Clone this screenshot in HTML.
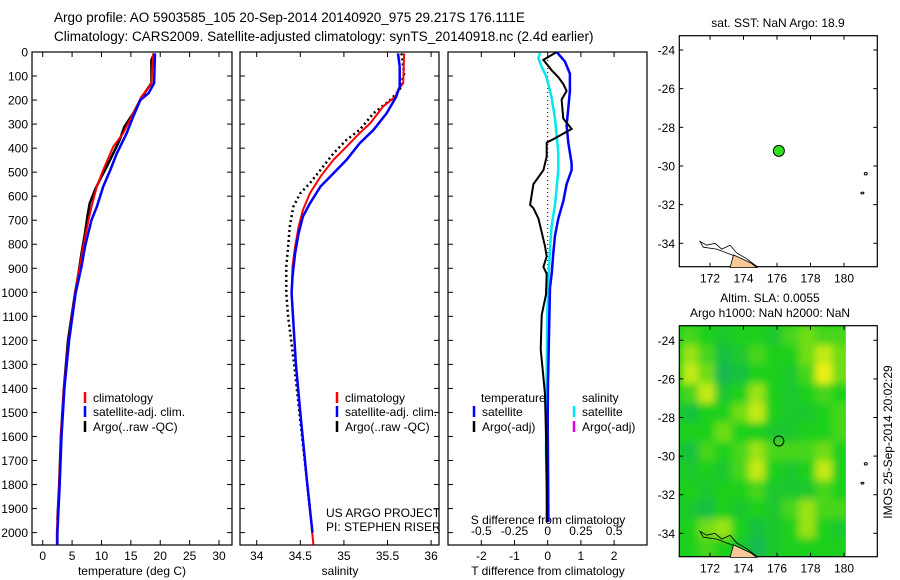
<!DOCTYPE html>
<html><head><meta charset="utf-8"><style>
body{margin:0;background:#fff}
svg{display:block;font-family:"Liberation Sans",sans-serif}
</style></head><body>
<svg id="fig" width="900" height="580" viewBox="0 0 900 580" xmlns="http://www.w3.org/2000/svg">
<defs>
<filter id="blur" x="-5%" y="-5%" width="110%" height="110%"><feGaussianBlur stdDeviation="4"/></filter>
<clipPath id="mapclip"><rect x="679.3" y="325.7" width="166.5" height="231"/></clipPath>
</defs>
<text x="54" y="22" font-size="13.5">Argo profile: AO 5903585_105 20-Sep-2014 20140920_975 29.217S 176.111E</text>
<text x="54" y="41" font-size="13.5">Climatology: CARS2009. Satellite-adjusted climatology: synTS_20140918.nc (2.4d earlier)</text>
<g id="g"></g>
</svg>
<script>
// ---------- data ----------
const depthTicks=[0,100,200,300,400,500,600,700,800,900,1000,1100,1200,1300,1400,1500,1600,1700,1800,1900,2000];
const tempTicks=[0,5,10,15,20,25,30];
const salTicks=[34,34.5,35,35.5,36];
const salTickLabels=["34","34.5","35","35.5","36"];
const tdiffTicks=[-2,-1,0,1,2];
const sdiffTicks=[-0.5,-0.25,0,0.25,0.5];
const sdiffTickLabels=["-0.5","-0.25","0","0.25","0.5"];
// temperature profiles
const tClimDepth=[6,130,158,186,255,338,394,491,560,644,699,810,893,1004,1200,1400,1600,1800,2000,2050];
const tClimVal=[18.8,18.5,17.7,16.8,15.4,13.7,12.0,10.3,9.2,8.3,7.8,6.9,6.3,5.5,4.4,3.6,3.1,2.8,2.4,2.4];
const tSatDepth=[6,130,172,200,269,338,422,491,560,644,699,810,893,1004,1200,1400,1600,1800,2000,2050];
const tSatVal=[19.1,18.95,18.0,16.6,15.4,14.3,12.6,11.5,10.3,9.2,8.3,7.2,6.6,5.6,4.5,3.7,3.2,2.9,2.5,2.5];
const tArgoDepth=[6,33,130,158,200,255,311,366,422,477,533,574,630,685,755,838,921,1004,1200,1400,1600,1800,1950];
const tArgoVal=[19.0,18.5,18.5,17.7,16.6,15.4,13.9,13.1,12.0,10.9,9.7,8.9,8.0,7.6,7.2,6.6,6.1,5.5,4.3,3.6,3.1,2.8,2.5];
// salinity profiles
const sClimDepth=[6,130,158,186,227,297,338,394,449,519,588,658,727,810,893,1004,1300,1500,1800,2050];
const sClimVal=[35.69,35.68,35.62,35.59,35.45,35.30,35.18,35.03,34.88,34.73,34.61,34.53,34.48,34.44,34.41,34.40,34.45,34.50,34.58,34.65];
const sSatDepth=[6,61,144,186,255,324,380,449,505,560,630,685,755,838,935,1004,1300,1500,1800,2000];
const sSatVal=[35.62,35.64,35.64,35.60,35.49,35.34,35.18,35.03,34.88,34.73,34.61,34.53,34.48,34.44,34.41,34.40,34.45,34.50,34.58,34.64];
const sArgoDepth=[6,89,158,200,255,324,366,422,491,546,588,644,727,810,893,1004,1100,1300,1500,1700,1900];
const sArgoVal=[35.66,35.69,35.64,35.53,35.34,35.18,35.03,34.88,34.73,34.61,34.50,34.42,34.38,34.36,34.34,34.34,34.36,34.43,34.49,34.55,34.61];
// differences
const dTSatDepth=[0,40,90,162,234,306,377,463,492,550,621,693,765,837,923,980,1095,1238,1382,1525,1956];
const dTSatVal=[0.27,0.52,0.67,0.67,0.62,0.57,0.62,0.72,0.72,0.57,0.47,0.32,0.22,0.17,0.12,0.07,0.05,0.03,0.01,0.0,0.02];
const dTArgoDepth=[0,33,76,105,133,162,198,277,320,363,377,435,492,550,636,650,693,750,808,851,894,923,1009,1095,1238,1353,1425,1597,1812,1956];
const dTArgoVal=[0.27,-0.13,0.12,0.32,0.47,0.57,0.42,0.47,0.72,0.17,-0.03,-0.03,-0.13,-0.43,-0.53,-0.43,-0.28,-0.18,-0.08,-0.03,-0.13,-0.03,-0.05,-0.18,-0.21,-0.13,-0.08,-0.05,-0.03,-0.03];
const dSSatDepth=[4,26,62,105,191,277,349,420,492,564,636,722,808,951,1095,1382,1669,1884,1956];
const dSSatVal=[-0.058,-0.07,-0.045,-0.008,0.03,0.055,0.068,0.08,0.08,0.068,0.055,0.03,0.018,0.005,-0.003,-0.008,-0.013,-0.003,0.005];
// maps
const lonTicks=[172,174,176,178,180];
const latTicks=[-24,-26,-28,-30,-32,-34];
const argoLon=176.111, argoLat=-29.217;
const slaLons=[170.85,171.85,172.85,173.85,174.85,175.85,176.85,177.85,178.85,179.85];
const slaLats=[-23.8,-24.8,-25.8,-26.8,-27.8,-28.8,-29.8,-30.8,-31.8,-32.8,-33.8,-34.8];
const slaGrid=[
[.6,.5,.4,.5,.5,.4,.6,.7,.6,.6],
[.8,.6,.3,.4,.6,.5,.5,.7,.9,.7],
[.9,.7,.2,.3,.5,.5,.4,.6,1,.7],
[.6,.9,.4,.5,.8,.5,.4,.5,.6,.5],
[.3,.5,.5,.7,.9,.5,.4,.4,.5,.6],
[.5,.5,.7,.5,.5,.4,.4,.5,.5,.6],
[.3,.6,.5,.6,.8,.6,.6,.6,.7,.5],
[.4,.5,.4,.6,.9,.5,.4,.5,.9,.5],
[.5,.4,.5,.5,.6,.4,.4,.4,.6,.5],
[.4,.3,.5,.4,.5,.4,.6,.8,.6,.6],
[.5,.7,.8,.5,.3,.4,.5,.8,.5,.4],
[.5,.6,.5,.4,.2,.4,.5,.5,.5,.5]];
const coastLon=[171.4,171.8,172.3,172.7,173.2,173.6,174.2,174.8,174.3,173.6,173.0,172.4,171.6,171.4];
const coastLat=[-33.9,-34.1,-34.0,-34.3,-34.1,-34.5,-34.8,-35.2,-35.0,-34.7,-34.5,-34.3,-34.2,-33.9];

// ---------- scales ----------
const NS="http://www.w3.org/2000/svg";
const G=document.getElementById('g');
const Y0=52, YS=0.2403;
const yD=d=>Y0+d*YS;
const xT=v=>42.7+v*5.877;
const xS=v=>256.7+(v-34)*87.2;
const xDT=v=>547.7+v*33.2;
const xDS=v=>547.7+v*132.8;
const mx=l=>710+(l-172)*16.75;
const myTop=l=>50+(-24-l)*19.33;
const myBot=l=>340.3+(-24-l)*19.3;
function el(tag,attrs,parent){const e=document.createElementNS(NS,tag);for(const k in attrs)e.setAttribute(k,attrs[k]);(parent||G).appendChild(e);return e;}
function txt(s,x,y,anchor,size,parent){const t=el('text',{x:x,y:y,'text-anchor':anchor||'middle','font-size':size||12},parent);t.textContent=s;return t;}
function line(xs,ys,color,w,name){const pts=xs.map((x,i)=>x.toFixed(1)+','+ys[i].toFixed(1)).join(' ');const p=el('polyline',{points:pts,fill:'none',stroke:color,'stroke-width':w});return p;}

// ---------- profile panels ----------
const panels=[[32,232],[240,439],[448,647]];
const BOT=545;
panels.forEach((p,i)=>{
  const r=el('rect',{x:p[0],y:Y0,width:p[1]-p[0],height:BOT-Y0,fill:'none',stroke:'#000','stroke-width':1.2});
  
  
  depthTicks.forEach(d=>{
    el('line',{x1:p[0],x2:p[0]+5,y1:yD(d),y2:yD(d),stroke:'#000'});
    if(i<2) el('line',{x1:p[1]-5,x2:p[1],y1:yD(d),y2:yD(d),stroke:'#000'});
  });
});
depthTicks.forEach(d=>{const t=txt(String(d),28,yD(d)+4.5,'end',12);});
function xticks(vals,labels,fx,p){vals.forEach((v,i)=>{const x=fx(v);el('line',{x1:x,x2:x,y1:BOT,y2:BOT-5,stroke:'#000'});el('line',{x1:x,x2:x,y1:Y0,y2:Y0+5,stroke:'#000'});const t=txt(labels[i],x,BOT+15,'middle',12);});}
xticks(tempTicks,tempTicks.map(String),xT);
xticks(salTicks,salTickLabels,xS);
xticks(tdiffTicks,tdiffTicks.map(String),xDT);
sdiffTicks.forEach((v,i)=>{const t=txt(sdiffTickLabels[i],xDS(v),535,'middle',12);});
let a=txt('temperature (deg C)',132,575,'middle',12);
a=txt('salinity',340,575,'middle',12);
a=txt('T difference from climatology',548,575,'middle',12);
a=txt('S difference from climatology',548,524,'middle',12);
a=txt('US ARGO PROJECT',326,517,'start',12);
a=txt('PI: STEPHEN RISER',326,531,'start',12);

// zero line
el('line',{x1:xDT(0),x2:xDT(0),y1:Y0,y2:yD(1000),stroke:'#000','stroke-dasharray':'1 3'});

line(tArgoVal.map(xT),tArgoDepth.map(yD),'#000',2.5,'temp-argo-line');
line(tClimVal.map(xT),tClimDepth.map(yD),'#f00',2,'temp-climatology-line');
line(tSatVal.map(xT),tSatDepth.map(yD),'#00f',2.5,'temp-satellite-line');
const sa=line(sArgoVal.map(xS),sArgoDepth.map(yD),'#000',2.5,'salinity-argo-line');sa.setAttribute('stroke-dasharray','2 3');
line(sClimVal.map(xS),sClimDepth.map(yD),'#f00',2,'salinity-climatology-line');
line(sSatVal.map(xS),sSatDepth.map(yD),'#00f',2.5,'salinity-satellite-line');
line(dSSatVal.map(xDS),dSSatDepth.map(yD),'#00e8f0',2.5,'s-diff-satellite-line');
line(dTSatVal.map(xDT),dTSatDepth.map(yD),'#00f',2.5,'t-diff-satellite-line');
line(dTArgoVal.map(xDT),dTArgoDepth.map(yD),'#000',2,'t-diff-argo-line');

// legends
function leg(x,y,color,label,name){el('line',{x1:x,x2:x,y1:y-10,y2:y+1,stroke:color,'stroke-width':2.5});const t=txt(label,x+8,y,'start',12);}
leg(85,402,'#f00','climatology','legend-climatology');
leg(85,416,'#00f','satellite-adj. clim.','legend-satellite-adj');
leg(85,431,'#000','Argo(..raw -QC)','legend-argo');
leg(337,402,'#f00','climatology','legend-climatology-2');
leg(337,416,'#00f','satellite-adj. clim.','legend-satellite-adj-2');
leg(337,431,'#000','Argo(..raw -QC)','legend-argo-2');
a=txt('temperature',481,402,'start',12);
a=txt('salinity',582,402,'start',12);
leg(474,416,'#00f','satellite','legend-t-satellite');
leg(474,431,'#000','Argo(-adj)','legend-t-argo');
leg(574,416,'#00e8f0','satellite','legend-s-satellite');
leg(574,431,'#e000e0','Argo(-adj)','legend-s-argo');

// ---------- maps ----------
function mapFrame(top,bot,fy,name){
  const r=el('rect',{x:679.3,y:top,width:198,height:bot-top,fill:'none',stroke:'#000','stroke-width':1.2});
  
  lonTicks.forEach(l=>{const x=mx(l);el('line',{x1:x,x2:x,y1:top,y2:top+4,stroke:'#000'});el('line',{x1:x,x2:x,y1:bot,y2:bot-4,stroke:'#000'});const t=txt(String(l),x,bot+16,'middle',12);});
  latTicks.forEach(l=>{const y=fy(l);el('line',{x1:679.3,x2:683.3,y1:y,y2:y,stroke:'#000'});el('line',{x1:877.3,x2:873.3,y1:y,y2:y,stroke:'#000'});const t=txt(String(l),675,y+4.5,'end',12);});
}
function coast(fy,name){
  const pts=coastLon.map((l,i)=>mx(l).toFixed(1)+','+fy(coastLat[i]).toFixed(1)).join(' ');
  const c=el('polygon',{points:pts,fill:'none',stroke:'#000','stroke-width':0.8});
  
  const land=el('polygon',{points:[[173.4,-34.6],[174.4,-35.0],[174.8,-35.25],[173.2,-35.25]].map(q=>mx(q[0]).toFixed(1)+','+fy(q[1]).toFixed(1)).join(' '),fill:'#f8c898',stroke:'#000','stroke-width':0.8});
  
  el('ellipse',{cx:mx(181.3),cy:fy(-30.4),rx:1.5,ry:1.2,fill:'none',stroke:'#000'});
  el('ellipse',{cx:mx(181.1),cy:fy(-31.4),rx:1.5,ry:0.9,fill:'none',stroke:'#000'});
}
// top map
a=txt('sat. SST: NaN Argo: 18.9',778,27,'middle',12);
mapFrame(35.7,266.7,myTop,'sst-map-frame');
coast(myTop,'sst-map-coast');
const dot=el('circle',{cx:mx(argoLon),cy:myTop(argoLat),r:5.5,fill:'#30e020',stroke:'#000','stroke-width':1});

// bottom map
a=txt('Altim. SLA: 0.0055',770,302,'middle',12);
a=txt('Argo h1000: NaN h2000: NaN',770,317,'middle',12);
function ramp(v){const c0=[16,170,115],c1=[28,208,28],c2=[238,240,20];let a,b,t;if(v<0.5){a=c0;b=c1;t=v/0.5;}else{a=c1;b=c2;t=(v-0.5)/0.5;}return 'rgb('+a.map((x,i)=>Math.round(x+(b[i]-x)*t)).join(',')+')';}
const hm=el('g',{'clip-path':'url(#mapclip)'});

el('rect',{x:679.3,y:325.7,width:166.5,height:231,fill:ramp(0.5)},hm);
const hb=el('g',{filter:'url(#blur)'},hm);
const cw=16.75, ch=19.3;
slaGrid.forEach((row,r)=>row.forEach((v,c)=>{
  const cell=el('rect',{x:mx(slaLons[c])-cw/2-1,y:myBot(slaLats[r])-ch/2-1,width:cw+2,height:ch+2,fill:ramp(v)},hb);
  
  
}));
mapFrame(325.7,556.7,myBot,'sla-map-frame');
coast(myBot,'sla-map-coast');
const dot2=el('circle',{cx:mx(argoLon),cy:myBot(argoLat),r:5,fill:'none',stroke:'#000','stroke-width':1});

const im=el('text',{x:0,y:0,'font-size':12,'text-anchor':'middle',transform:'translate(892,442) rotate(-90)'});
im.textContent='IMOS 25-Sep-2014 20:02:29';


</script>
</body></html>
